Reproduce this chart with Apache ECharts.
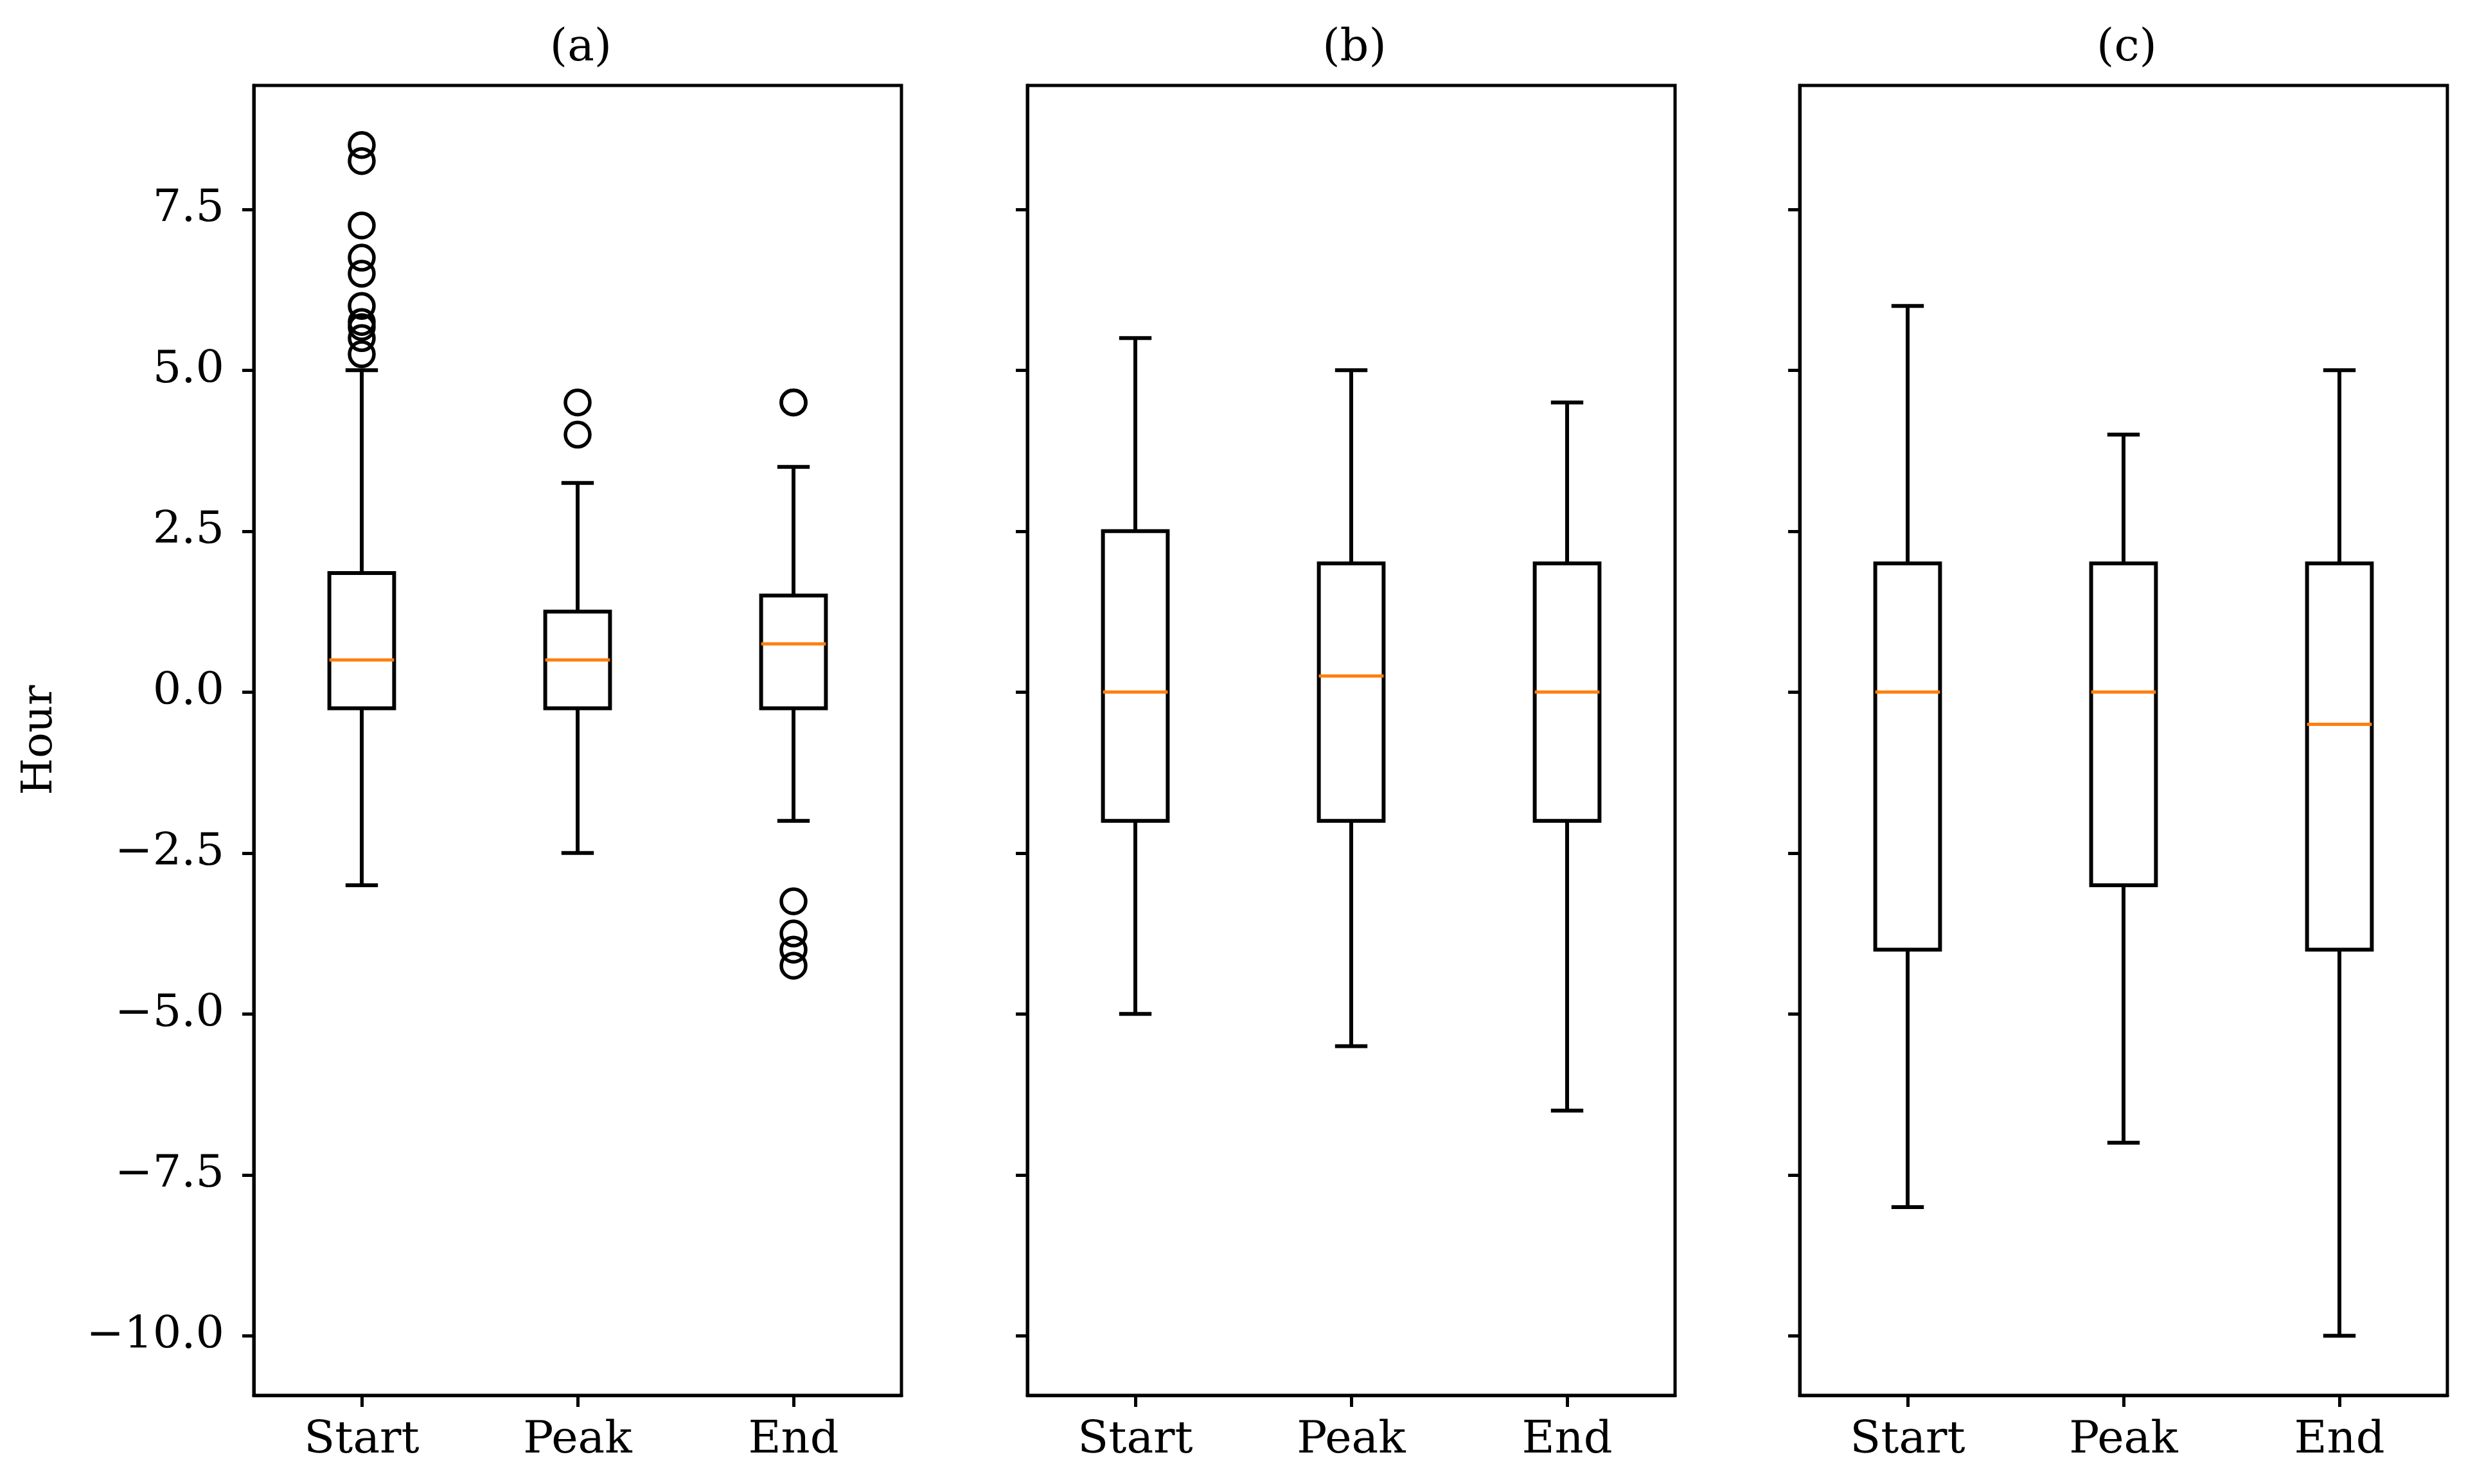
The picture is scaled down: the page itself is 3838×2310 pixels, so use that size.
<!DOCTYPE html>
<html>
<head>
<meta charset="utf-8">
<script src="https://cdn.jsdelivr.net/npm/echarts@6/dist/echarts.min.js"></script>
<style>
html,body{margin:0;padding:0;background:#fff;}
#chart{width:3838px;height:2310px;}
</style>
</head>
<body>
<div id="chart"></div>
<script>
// ---- data ----
const categories = ['Start', 'Peak', 'End'];
const panelTitles = ['(a)', '(b)', '(c)'];
const yTicks = [-10, -7.5, -5, -2.5, 0, 2.5, 5, 7.5];
const yLabel = 'Hour';
// each box: [lower whisker, Q1, median, Q3, upper whisker]
const boxesA = [[-3.0, -0.25, 0.5, 1.85, 5.0], [-2.5, -0.25, 0.5, 1.25, 3.25], [-2.0, -0.25, 0.75, 1.5, 3.5]];
const boxesB = [[-5.0, -2.0, 0.0, 2.5, 5.5], [-5.5, -2.0, 0.25, 2.0, 5.0], [-6.5, -2.0, 0.0, 2.0, 4.5]];
const boxesC = [[-8.0, -4.0, 0.0, 2.0, 6.0], [-7.0, -3.0, 0.0, 2.0, 4.0], [-10.0, -4.0, -0.5, 2.0, 5.0]];
// outliers per category (panel a only)
const outliersAStart = [8.5, 8.25, 7.25, 6.75, 6.5, 6.0, 5.75, 5.67, 5.5, 5.25];
const outliersAPeak = [4.5, 4.0];
const outliersAEnd = [4.5, 4.5, -3.25, -3.75, -4.0, -4.25];
const yMin = -10.925, yMax = 9.425;

const panels = [
  { boxes: boxesA, outliers: [outliersAStart, outliersAPeak, outliersAEnd] },
  { boxes: boxesB, outliers: [[], [], []] },
  { boxes: boxesC, outliers: [[], [], []] }
];

// ---- layout ----
const FONT = 'DejaVu Serif';
const FS = 70;
const gridLeft = [395, 1599, 2801];
const gridW = 1008, gridTop = 133, gridH = 2039;

const chart = echarts.init(document.getElementById('chart'), null, { renderer: 'canvas' });

function renderBox(params, api) {
  const x = api.value(0);
  const lo = api.coord([x, api.value(1)]);
  const q1 = api.coord([x, api.value(2)]);
  const md = api.coord([x, api.value(3)]);
  const q3 = api.coord([x, api.value(4)]);
  const hi = api.coord([x, api.value(5)]);
  const band = api.size([1, 0])[0];
  const bw = band * 0.3, cw = band * 0.15;
  const cx = lo[0];
  const black = { stroke: '#000', lineWidth: 6, fill: null };
  return {
    type: 'group',
    children: [
      { type: 'line', shape: { x1: cx, y1: q1[1], x2: cx, y2: lo[1] }, style: black },
      { type: 'line', shape: { x1: cx, y1: q3[1], x2: cx, y2: hi[1] }, style: black },
      { type: 'line', shape: { x1: cx - cw / 2, y1: lo[1], x2: cx + cw / 2, y2: lo[1] }, style: black },
      { type: 'line', shape: { x1: cx - cw / 2, y1: hi[1], x2: cx + cw / 2, y2: hi[1] }, style: black },
      { type: 'rect', shape: { x: cx - bw / 2, y: q3[1], width: bw, height: q1[1] - q3[1] }, style: { stroke: '#000', lineWidth: 6, fill: 'rgba(0,0,0,0)' } },
      { type: 'line', shape: { x1: cx - bw / 2, y1: md[1], x2: cx + bw / 2, y2: md[1] }, style: { stroke: '#ff7f0e', lineWidth: 5 } }
    ]
  };
}

const grids = [], xAxes = [], yAxes = [], series = [], titles = [];
panels.forEach((p, i) => {
  grids.push({
    left: gridLeft[i], top: gridTop, width: gridW, height: gridH,
    show: true, borderColor: '#000', borderWidth: 5, backgroundColor: 'rgba(0,0,0,0)'
  });
  xAxes.push({
    type: 'category', gridIndex: i, data: categories, boundaryGap: true,
    axisLine: { show: true, onZero: false, lineStyle: { color: '#000', width: 5 } },
    axisTick: { show: true, alignWithLabel: true, length: 18, lineStyle: { color: '#000', width: 5 } },
    axisLabel: { show: true, color: '#000', fontFamily: FONT, fontSize: FS, margin: 36 },
    splitLine: { show: false }
  });
  yAxes.push({
    type: 'value', gridIndex: i, min: yMin, max: yMax,
    axisLine: { show: true, onZero: false, lineStyle: { color: '#000', width: 5 } },
    axisTick: { show: true, length: 18, customValues: yTicks, lineStyle: { color: '#000', width: 5 } },
    axisLabel: {
      show: i === 0, customValues: yTicks, color: '#000', fontFamily: FONT, fontSize: FS, margin: 46,
      formatter: v => v.toFixed(1).replace('-', '\u2212')
    },
    splitLine: { show: false }
  });
  series.push({
    type: 'custom', xAxisIndex: i, yAxisIndex: i,
    renderItem: renderBox,
    encode: { x: 0, y: [1, 2, 3, 4, 5] },
    data: p.boxes.map((b, k) => [k].concat(b)),
    z: 2
  });
  const pts = [];
  p.outliers.forEach((arr, k) => arr.forEach(v => pts.push([categories[k], v])));
  if (pts.length) {
    series.push({
      type: 'scatter', xAxisIndex: i, yAxisIndex: i,
      symbol: 'circle', symbolSize: 38,
      itemStyle: { color: 'rgba(0,0,0,0)', borderColor: '#000', borderWidth: 5.5, opacity: 1 },
      emphasis: { disabled: true },
      data: pts, z: 3
    });
  }
  titles.push({
    text: panelTitles[i], left: gridLeft[i] + gridW / 2, top: 36, textAlign: 'center',
    textStyle: { color: '#000', fontFamily: FONT, fontSize: FS, fontWeight: 'normal' }
  });
});

chart.setOption({
  animation: false,
  backgroundColor: '#fff',
  title: titles,
  grid: grids,
  xAxis: xAxes,
  yAxis: yAxes,
  series: series,
  graphic: [{
    type: 'text', x: 63, y: 1152, rotation: Math.PI / 2,
    style: { text: yLabel, fill: '#000', font: '66px "DejaVu Serif"', align: 'center', verticalAlign: 'middle' }
  }]
});
</script>
</body>
</html>
